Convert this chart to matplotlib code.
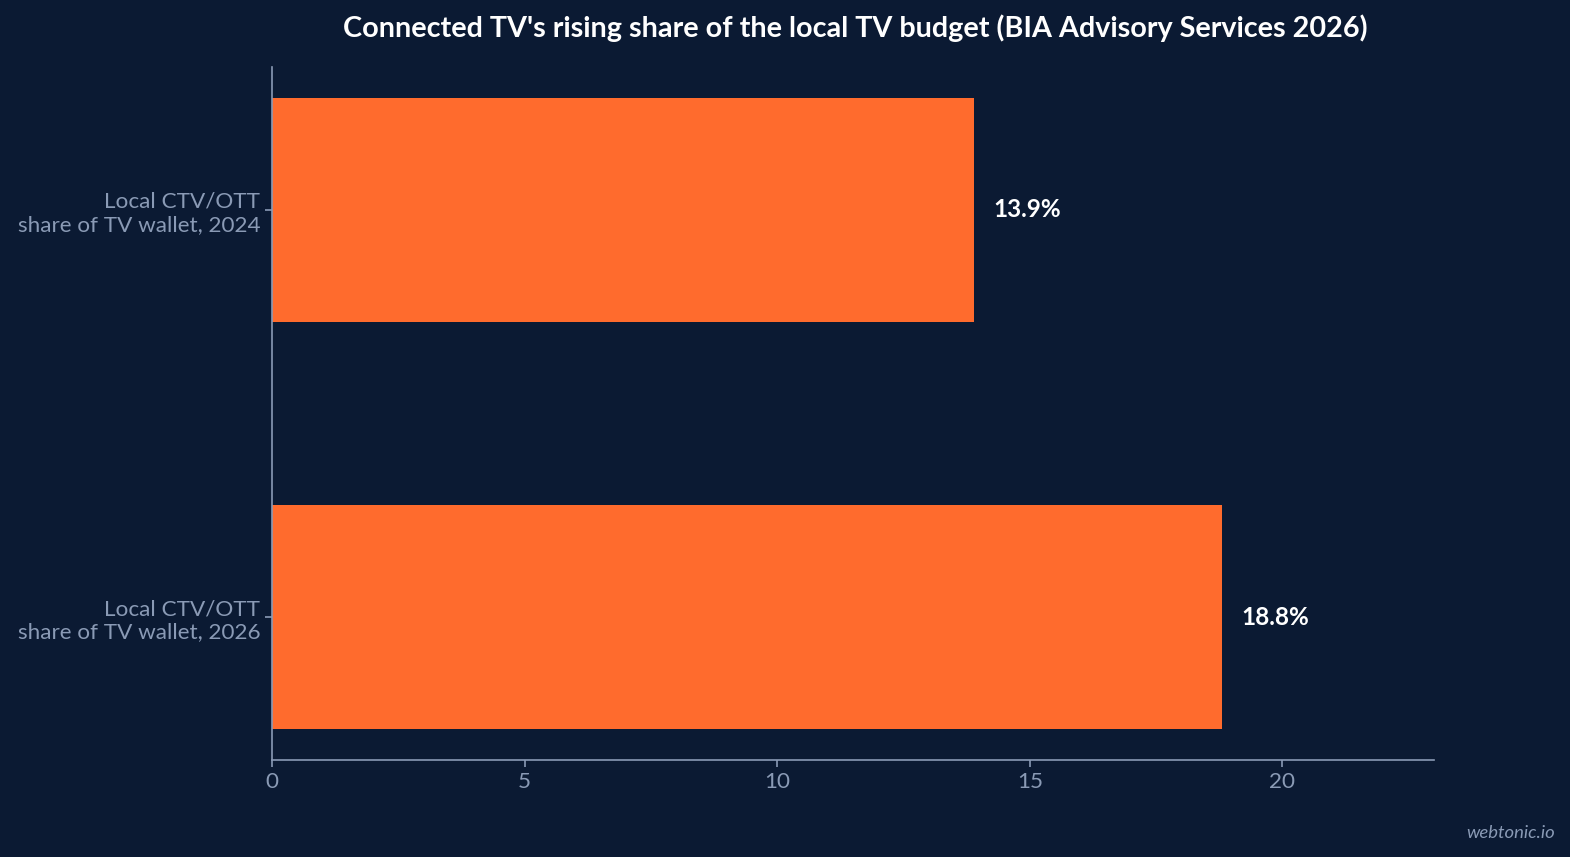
import matplotlib.pyplot as plt

plt.rcParams.update({
    "font.family": ["Lato", "DejaVu Sans"],
})

# data
categories = ["Local CTV/OTT\nshare of TV wallet, 2024",
              "Local CTV/OTT\nshare of TV wallet, 2026"]
shares = [13.9, 18.8]
value_labels = ["13.9%", "18.8%"]

bg = "#0b1a33"
bar_col = "#ff6b2d"
axis_col = "#8a9ab5"

fig = plt.figure(figsize=(15.7, 8.57), dpi=100, facecolor=bg)
ax = fig.add_axes([272/1570, 1 - 760/857, (1434-272)/1570, (760-67)/857])
ax.set_facecolor(bg)

ypos = list(range(len(categories)))
ax.barh(ypos, shares, height=0.55, color=bar_col)
for y, v, lab in zip(ypos, shares, value_labels):
    ax.text(v + 0.38, y, lab, va="center", ha="left", color="white",
            fontsize=17.5, fontweight="bold")

ax.set_yticks(ypos)
ax.set_yticklabels(categories)
ax.set_ylim(1.35, -0.35)
ax.set_xlim(0, 23)
ax.set_xticks([0, 5, 10, 15, 20])

for s in ["top", "right"]:
    ax.spines[s].set_visible(False)
for s in ["left", "bottom"]:
    ax.spines[s].set_color(axis_col)
    ax.spines[s].set_linewidth(1.2)
ax.tick_params(colors=axis_col, labelsize=16.2, length=5, width=1.2)

# title centred over the plot area
fig.text(855/1570, 1 - 28/857, "Connected TV's rising share of the local TV budget (BIA Advisory Services 2026)",
         ha="center", va="center", color="white", fontsize=20.7, fontweight="bold")
fig.text(1555/1570, 1 - 833/857, "webtonic.io", ha="right", va="center",
         color=axis_col, fontsize=13.3, style="italic")

fig.savefig("out.png", dpi=100, facecolor=bg)
